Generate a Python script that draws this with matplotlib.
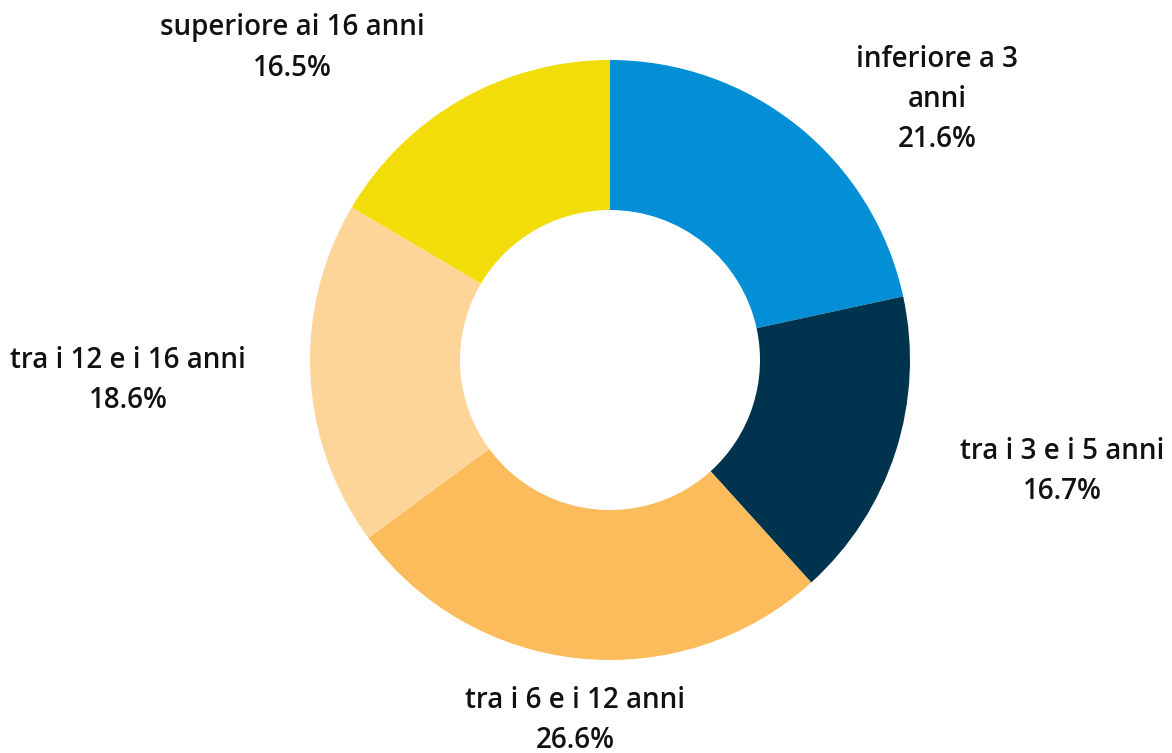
import matplotlib.pyplot as plt

categories = [
    "inferiore a 3\nanni",
    "tra i 3 e i 5 anni",
    "tra i 6 e i 12 anni",
    "tra i 12 e i 16 anni",
    "superiore ai 16 anni",
]
shares = [21.6, 16.7, 26.6, 18.6, 16.5]
colors = ["#038fd6", "#00344e", "#fdbc5b", "#fdd599", "#f2dc0a"]

# label centres in data units (pie radius = 1)
label_pos = [(1.09, 0.867), (1.507, -0.373), (-0.117, -1.20), (-1.607, -0.067), (-1.06, 1.04)]

fig = plt.figure(figsize=(11.72, 7.53), dpi=100)
ax = fig.add_axes([0, 0, 1, 1])

ax.pie(
    shares,
    colors=colors,
    startangle=90,
    counterclock=False,
    radius=1.0,
    wedgeprops=dict(width=0.5, edgecolor="none", linewidth=0),
)

for name, value, (x, y) in zip(categories, shares, label_pos):
    ax.text(x, y, f"{name}\n{value:.1f}%", ha="center", va="center",
            fontsize=20, family=["Open Sans", "DejaVu Sans"], color="#111111",
            linespacing=1.5, fontweight="semibold")

ax.set_xlim(-2.033, 1.873)
ax.set_ylim(-1.31, 1.2)
ax.set_aspect("equal")
ax.axis("off")

fig.savefig("out.png", dpi=100)
